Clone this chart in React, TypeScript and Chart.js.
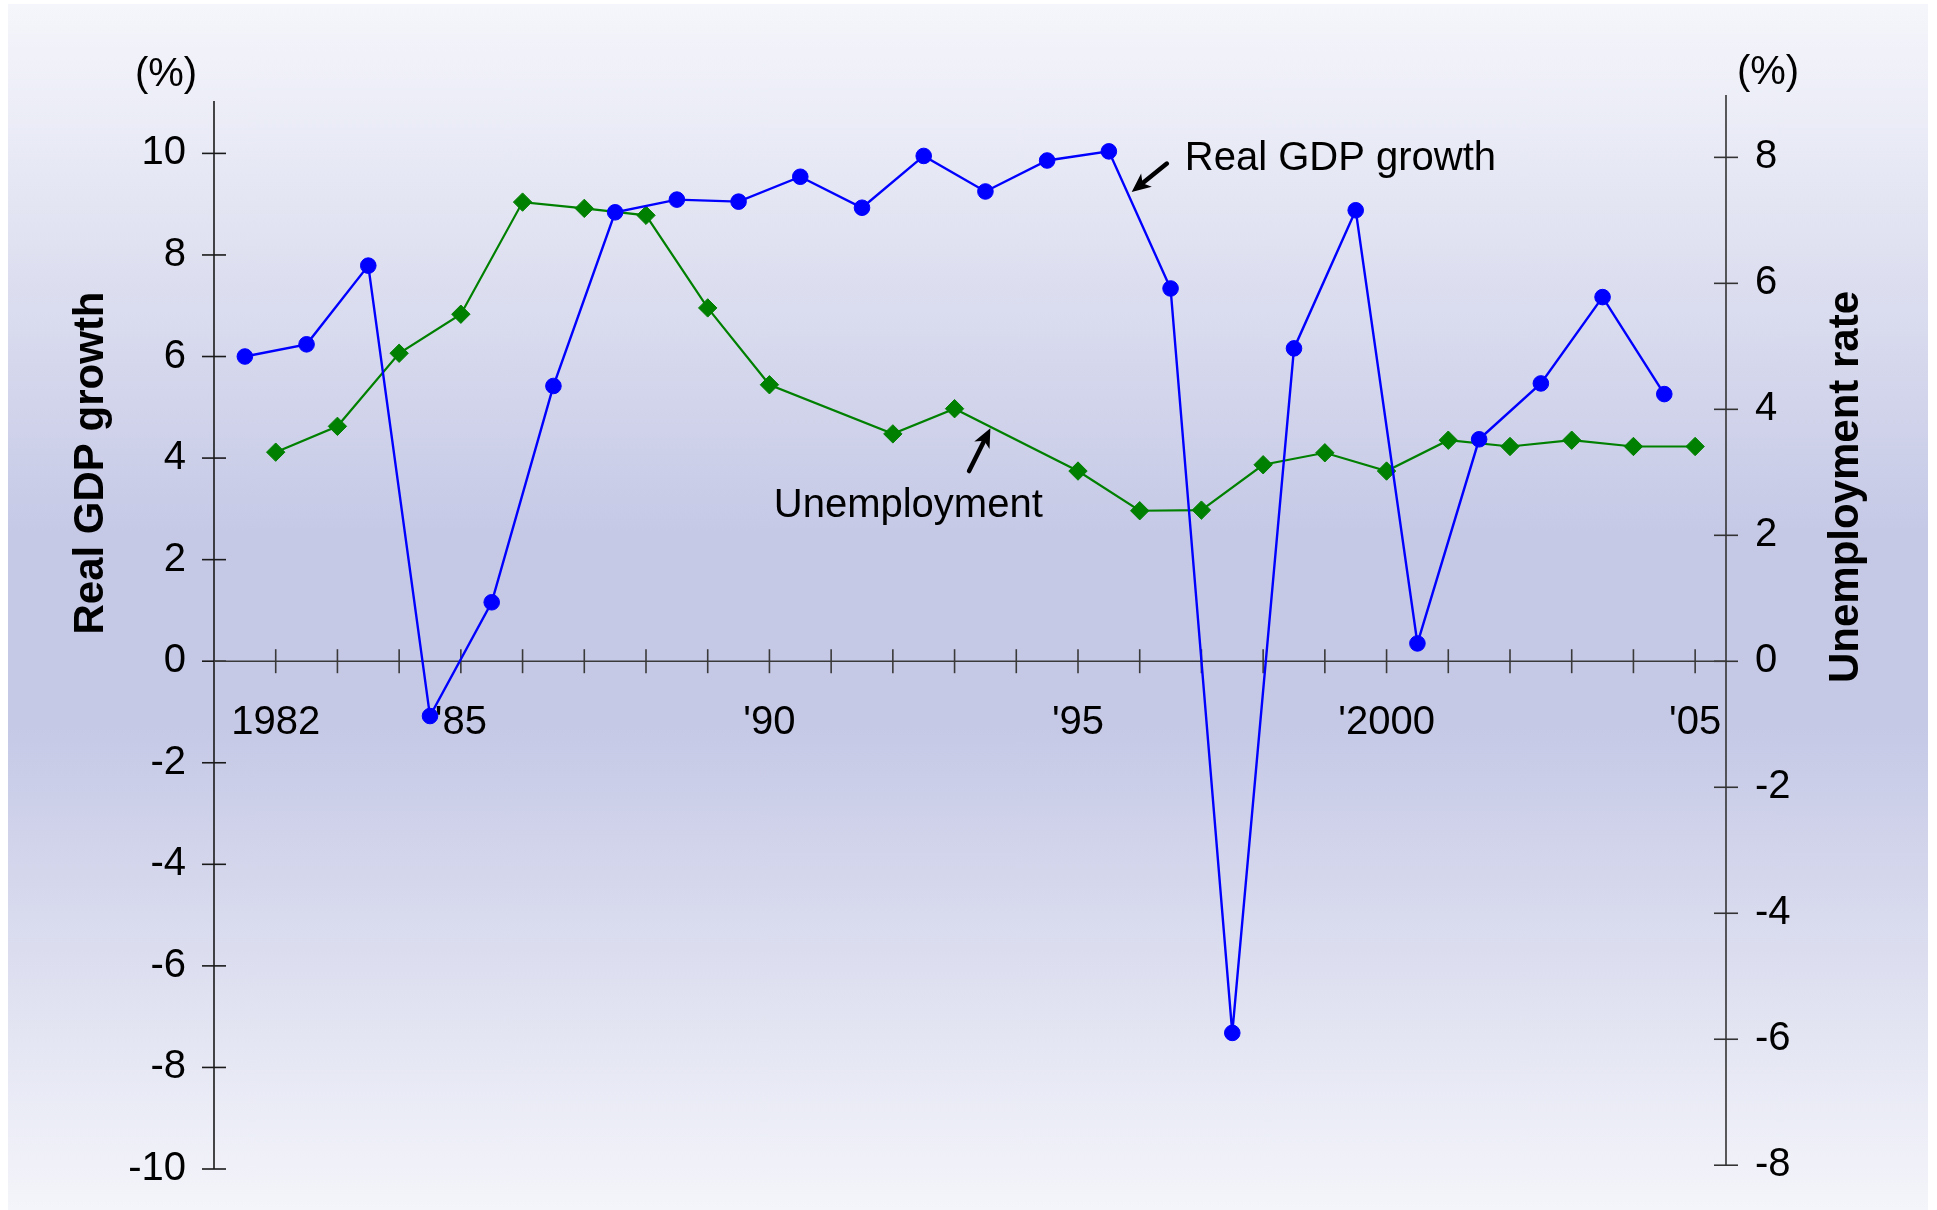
import React, { useEffect, useRef } from "react";
import { Chart, registerables } from "chart.js";

Chart.register(...registerables);

// ---- data ----
const gdpX = [1981.5, 1982.5, 1983.5, 1984.5, 1985.5, 1986.5, 1987.5, 1988.5, 1989.5, 1990.5, 1991.5, 1992.5,
  1993.5, 1994.5, 1995.5, 1996.5, 1997.5, 1998.5, 1999.5, 2000.5, 2001.5, 2002.5, 2003.5, 2004.5];
const gdpGrowth = [6.0, 6.24, 7.79, -1.08, 1.16, 5.42, 8.84, 9.09, 9.05, 9.54, 8.93, 9.95,
  9.25, 9.86, 10.04, 7.34, -7.32, 6.16, 8.88, 0.35, 4.37, 5.47, 7.17, 5.26];

const unempX = [1982, 1983, 1984, 1985, 1986, 1987, 1988, 1989, 1990, 1992, 1993,
  1995, 1996, 1997, 1998, 1999, 2000, 2001, 2002, 2003, 2004, 2005];
const unempRate = [3.32, 3.73, 4.89, 5.51, 7.29, 7.19, 7.08, 5.61, 4.39, 3.61, 4.01,
  3.02, 2.39, 2.40, 3.12, 3.31, 3.02, 3.51, 3.41, 3.51, 3.41, 3.41];

const leftTicks = [-10, -8, -6, -4, -2, 0, 2, 4, 6, 8, 10];
const rightTicks = [-8, -6, -4, -2, 0, 2, 4, 6, 8];
const yearTicks = [1982, 1983, 1984, 1985, 1986, 1987, 1988, 1989, 1990, 1991, 1992, 1993,
  1994, 1995, 1996, 1997, 1998, 1999, 2000, 2001, 2002, 2003, 2004, 2005];
const labelYears = [1982, 1985, 1990, 1995, 2000, 2005];
const yearLabels = ["1982", "'85", "'90", "'95", "'2000", "'05"];

const leftTitle = "Real GDP growth";
const rightTitle = "Unemployment rate";
const unitLabel = "(%)";

// annotations (data coordinates)
const gdpNote = { text: "Real GDP growth", textX: 1996.73, textY: 9.67, tailX: 1996.44, tailY: 9.8, tipX: 1995.87, tipY: 9.24 };
const unempNote = { text: "Unemployment", textX: 1990.07, textY: 2.29, tailX: 1993.235, tailY: 3.02, tipX: 1993.58, tipY: 3.7 };

const FONT = '"Liberation Sans", Arial, Helvetica, sans-serif';

function drawArrow(ctx: CanvasRenderingContext2D, x1: number, y1: number, x2: number, y2: number) {
  const ang = Math.atan2(y2 - y1, x2 - x1);
  const headLen = 19;
  const headW = 8.5;
  const c = Math.cos(ang), s = Math.sin(ang);
  const bx = x2 - headLen * c, by = y2 - headLen * s;
  ctx.lineWidth = 4.5;
  ctx.lineCap = "round";
  ctx.beginPath();
  ctx.moveTo(x1, y1);
  ctx.lineTo(bx + 4 * c, by + 4 * s);
  ctx.stroke();
  ctx.beginPath();
  ctx.moveTo(x2, y2);
  ctx.lineTo(bx + headW * s, by - headW * c);
  ctx.lineTo(bx + 5 * c, by + 5 * s);
  ctx.lineTo(bx - headW * s, by + headW * c);
  ctx.closePath();
  ctx.fill();
}

const decorPlugin = {
  id: "decor",
  beforeDatasetsDraw(chart: any) {
    const { ctx, chartArea: ca, scales } = chart;
    const x = scales.x, y = scales.y, y2 = scales.y2;
    const zeroY = y.getPixelForValue(0);
    ctx.save();
    // left axis
    ctx.strokeStyle = "#1a1a1a";
    ctx.lineWidth = 1.6;
    ctx.beginPath();
    ctx.moveTo(ca.left, ca.top + 6);
    ctx.lineTo(ca.left, y.getPixelForValue(-10));
    ctx.stroke();
    leftTicks.forEach((v) => {
      const py = y.getPixelForValue(v);
      ctx.beginPath();
      ctx.moveTo(ca.left - 12, py);
      ctx.lineTo(ca.left + 12, py);
      ctx.stroke();
    });
    // right axis
    ctx.strokeStyle = "#333";
    ctx.beginPath();
    ctx.moveTo(ca.right, ca.top);
    ctx.lineTo(ca.right, y2.getPixelForValue(-8));
    ctx.stroke();
    rightTicks.forEach((v) => {
      const py = y2.getPixelForValue(v);
      ctx.beginPath();
      ctx.moveTo(ca.right - 12, py);
      ctx.lineTo(ca.right + 12, py);
      ctx.stroke();
    });
    // zero line
    ctx.strokeStyle = "#3a3a3a";
    ctx.beginPath();
    ctx.moveTo(ca.left, zeroY);
    ctx.lineTo(ca.right, zeroY);
    ctx.stroke();
    // year ticks
    yearTicks.forEach((yr) => {
      const px = x.getPixelForValue(yr);
      ctx.beginPath();
      ctx.moveTo(px, zeroY - 12);
      ctx.lineTo(px, zeroY + 12);
      ctx.stroke();
    });
    // year labels
    ctx.fillStyle = "#000";
    ctx.font = `40px ${FONT}`;
    ctx.textAlign = "center";
    ctx.textBaseline = "alphabetic";
    labelYears.forEach((yr, i) => {
      ctx.fillText(yearLabels[i], x.getPixelForValue(yr), zeroY + 73);
    });
    // unit labels
    ctx.textBaseline = "middle";
    ctx.fillText(unitLabel, ca.left - 48, ca.top - 20);
    ctx.fillText(unitLabel, ca.right + 42, ca.top - 22);
    // axis titles
    ctx.font = `bold 42px ${FONT}`;
    ctx.textBaseline = "alphabetic";
    ctx.save();
    ctx.translate(ca.left - 111, 459);
    ctx.rotate(-Math.PI / 2);
    ctx.fillText(leftTitle, 0, 0);
    ctx.restore();
    ctx.save();
    ctx.translate(ca.right + 132, 483);
    ctx.rotate(-Math.PI / 2);
    ctx.fillText(rightTitle, 0, 0);
    ctx.restore();
    ctx.restore();
  },
  afterDatasetsDraw(chart: any) {
    const { ctx, scales } = chart;
    const x = scales.x, y = scales.y, y2 = scales.y2;
    ctx.save();
    ctx.fillStyle = "#000";
    ctx.strokeStyle = "#000";
    ctx.font = `40px ${FONT}`;
    ctx.textAlign = "left";
    ctx.textBaseline = "alphabetic";
    ctx.fillText(gdpNote.text, x.getPixelForValue(gdpNote.textX), y.getPixelForValue(gdpNote.textY));
    drawArrow(ctx, x.getPixelForValue(gdpNote.tailX), y.getPixelForValue(gdpNote.tailY),
      x.getPixelForValue(gdpNote.tipX), y.getPixelForValue(gdpNote.tipY));
    ctx.fillText(unempNote.text, x.getPixelForValue(unempNote.textX), y2.getPixelForValue(unempNote.textY));
    drawArrow(ctx, x.getPixelForValue(unempNote.tailX), y2.getPixelForValue(unempNote.tailY),
      x.getPixelForValue(unempNote.tipX), y2.getPixelForValue(unempNote.tipY));
    ctx.restore();
  },
};

export default function App() {
  const ref = useRef<HTMLCanvasElement | null>(null);
  useEffect(() => {
    if (!ref.current) return;
    const chart = new Chart(ref.current, {
      type: "line",
      data: {
        datasets: [
          {
            label: "Real GDP growth",
            data: gdpX.map((v, i) => ({ x: v, y: gdpGrowth[i] })),
            yAxisID: "y",
            borderColor: "#0000ff",
            backgroundColor: "#0000ff",
            borderWidth: 2.4,
            pointRadius: 7.8,
            pointBorderWidth: 1,
            pointBorderColor: "#0000ff",
            pointBackgroundColor: "#0000ff",
            tension: 0,
          },
          {
            label: "Unemployment rate",
            data: unempX.map((v, i) => ({ x: v, y: unempRate[i] })),
            yAxisID: "y2",
            borderColor: "#008000",
            backgroundColor: "#008000",
            borderWidth: 2.2,
            pointStyle: "rectRot",
            pointRadius: 9.2,
            pointBorderWidth: 1,
            pointBorderColor: "#008000",
            pointBackgroundColor: "#008000",
            tension: 0,
          },
        ],
      },
      options: {
        responsive: false,
        maintainAspectRatio: false,
        devicePixelRatio: 1,
        animation: false,
        events: [],
        layout: { padding: { top: 91, bottom: 41, left: 0, right: 0 } },
        plugins: { legend: { display: false }, tooltip: { enabled: false } },
        scales: {
          x: { type: "linear", min: 1981, max: 2005.5, display: false },
          y: {
            type: "linear",
            position: "left",
            min: -10,
            max: 11.15,
            afterBuildTicks: (s: any) => { s.ticks = leftTicks.map((v) => ({ value: v })); },
            afterFit: (s: any) => { s.width = 206; s.paddingTop = 0; s.paddingBottom = 0; },
            grid: { display: false, drawTicks: false, tickLength: 0 },
            border: { display: false },
            ticks: {
              autoSkip: false,
              padding: 28,
              color: "#000",
              font: { family: FONT, size: 40 },
              callback: (v: any) => String(v),
            },
          },
          y2: {
            type: "linear",
            position: "right",
            min: -8.06,
            max: 8.99,
            afterBuildTicks: (s: any) => { s.ticks = rightTicks.map((v) => ({ value: v })); },
            afterFit: (s: any) => { s.width = 202; s.paddingTop = 0; s.paddingBottom = 0; },
            grid: { display: false, drawTicks: false, tickLength: 0 },
            border: { display: false },
            ticks: {
              autoSkip: false,
              padding: 29,
              color: "#000",
              font: { family: FONT, size: 40 },
              callback: (v: any) => String(v),
            },
          },
        },
      } as any,
      plugins: [decorPlugin],
    });
    return () => chart.destroy();
  }, []);

  return (
    <div
      style={{
        position: "absolute",
        left: 8,
        top: 4,
        width: 1920,
        height: 1206,
        background: "linear-gradient(to bottom, #f5f6fb 0%, #c6c9e6 44%, #c6c9e6 60%, #f4f5fa 100%)",
      }}
    >
      <canvas ref={ref} width={1920} height={1206} style={{ display: "block", width: 1920, height: 1206 }} />
    </div>
  );
}
